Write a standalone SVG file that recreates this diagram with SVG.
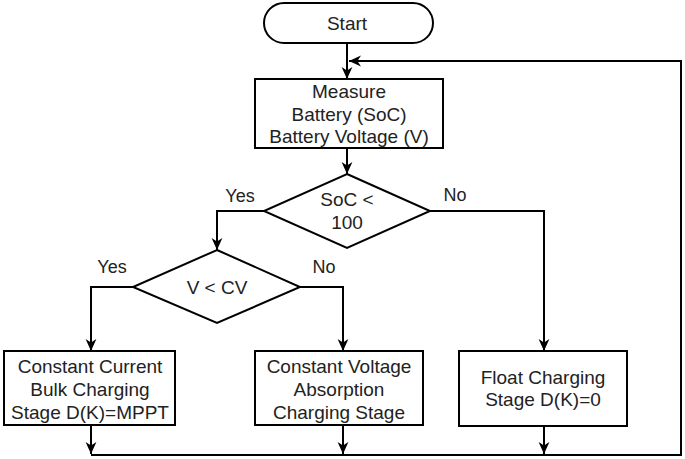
<svg xmlns="http://www.w3.org/2000/svg" width="685" height="459" viewBox="0 0 685 459">
<defs>
<style>
.shape{fill:#fff;stroke:#000;stroke-width:2}
.t{font-family:"Liberation Sans",Arial,sans-serif;font-size:19px;fill:#222;text-anchor:middle}
.lbl{font-family:"Liberation Sans",Arial,sans-serif;font-size:18px;fill:#222;text-anchor:middle}
.c{fill:none;stroke:#000;stroke-width:2}
.ca{fill:none;stroke:#000;stroke-width:2;marker-end:url(#arr)}
</style>
<marker id="arr" markerUnits="userSpaceOnUse" markerWidth="12" markerHeight="12" viewBox="0 0 10 10" refX="10" refY="5" orient="auto">
<path d="M0,0.5 L10,5 L0,9.5 L3,5 z" fill="#000"/>
</marker>
</defs>
<rect width="685" height="459" fill="#fff"/>
<g id="connectors">
<line class="ca" x1="347" y1="43" x2="347" y2="79"/>
<polyline class="ca" points="91,455 681,455 681,61 349,61"/>
<line class="ca" x1="347" y1="148" x2="347" y2="174"/>
<polyline class="ca" points="264,211 217,211 217,250"/>
<polyline class="ca" points="430,211 544,211 544,351"/>
<polyline class="ca" points="133,287 91,287 91,351"/>
<polyline class="ca" points="300,287 343,287 343,351"/>
<line class="ca" x1="91" y1="425" x2="91" y2="454"/>
<line class="ca" x1="343" y1="425" x2="343" y2="454"/>
<line class="ca" x1="544" y1="426" x2="544" y2="454"/>
<text class="lbl" x="240" y="202">Yes</text>
<text class="lbl" x="455" y="201">No</text>
<text class="lbl" x="112" y="273">Yes</text>
<text class="lbl" x="324" y="273">No</text>
</g>
<g id="start">
<rect class="shape" x="264" y="3" width="169" height="40" rx="20" ry="20"/>
<text class="t" x="347" y="30">Start</text>
</g>
<g id="measure">
<rect class="shape" x="255" y="79" width="188" height="69"/>
<text class="t" x="349" y="98">Measure</text>
<text class="t" x="349" y="121">Battery (SoC)</text>
<text class="t" x="349" y="143">Battery Voltage (V)</text>
</g>
<g id="soc">
<polygon class="shape" points="347,174 430,211 347,248 264,211"/>
<text class="t" x="347" y="206">SoC &lt;</text>
<text class="t" x="347" y="229">100</text>
</g>
<g id="vcv">
<polygon class="shape" points="217,250 300,287 217,323 133,287"/>
<text class="t" x="217" y="294">V &lt; CV</text>
</g>
<g id="bulk">
<rect class="shape" x="4" y="351" width="171" height="74"/>
<text class="t" x="90" y="373">Constant Current</text>
<text class="t" x="90" y="396">Bulk Charging</text>
<text class="t" x="90" y="419">Stage D(K)=MPPT</text>
</g>
<g id="absorption">
<rect class="shape" x="255" y="351" width="168" height="74"/>
<text class="t" x="339" y="373">Constant Voltage</text>
<text class="t" x="339" y="396">Absorption</text>
<text class="t" x="339" y="419">Charging Stage</text>
</g>
<g id="float">
<rect class="shape" x="459" y="351" width="168" height="75"/>
<text class="t" x="543" y="384">Float Charging</text>
<text class="t" x="543" y="406">Stage D(K)=0</text>
</g>
</svg>
